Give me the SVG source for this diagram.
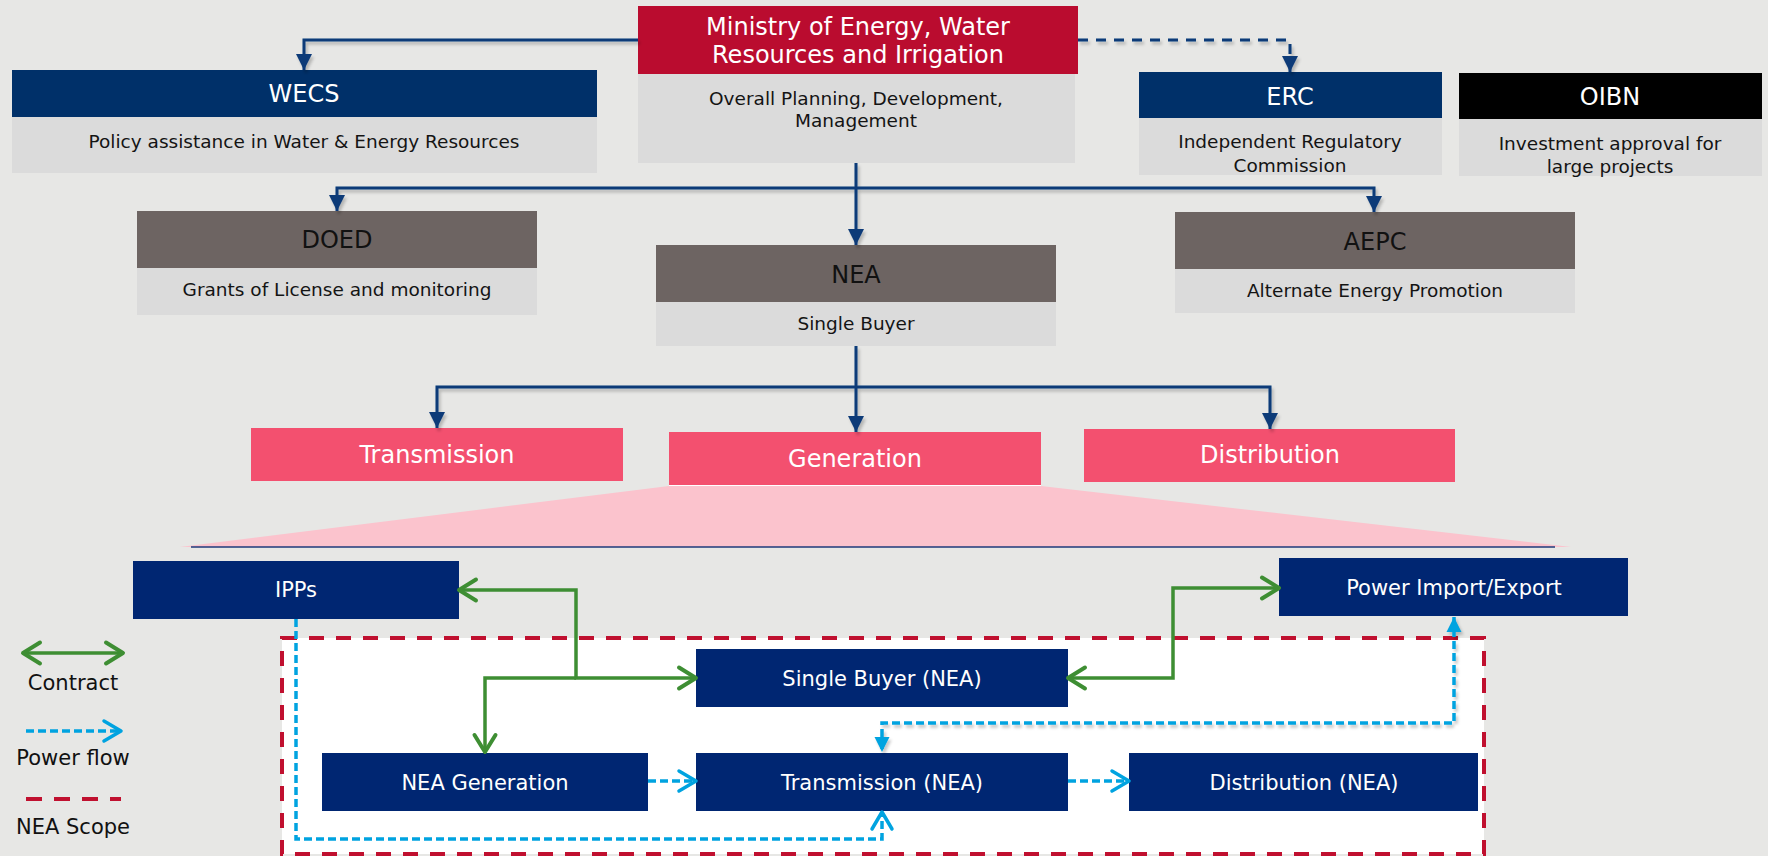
<svg xmlns="http://www.w3.org/2000/svg" width="1768" height="856" viewBox="0 0 1768 856">
<defs>
<style>
text{font-family:"DejaVu Sans",Verdana,sans-serif;text-anchor:middle}
.hd{font-size:24px}
.bd{font-size:18.5px;fill:#141414}
.w{fill:#ffffff}
.k{fill:#111111}
.ib{font-size:21px;fill:#ffffff}
.lg{font-size:21px;fill:#111111}
.navy{fill:#003069}
.nb{fill:#002672}
.gray{fill:#DBDBDB}
.brown{fill:#6D6462}
.pink{fill:#F3506F}
.nv{fill:none;stroke:#0B3A78;stroke-width:3}
.gr{fill:none;stroke:#3E8E33;stroke-width:3.5}
.bl{fill:none;stroke:#00A3E0;stroke-width:3.5;stroke-dasharray:8 4}
</style>
<filter id="sh" filterUnits="userSpaceOnUse" x="0" y="0" width="1768" height="856">
<feDropShadow dx="2" dy="3" stdDeviation="1.5" flood-color="#000" flood-opacity="0.22"/>
</filter>
<marker id="nh" markerUnits="userSpaceOnUse" markerWidth="16" markerHeight="16" viewBox="0 0 16 16" refX="16" refY="8" orient="auto">
<path d="M0,0 L16,8 L0,16 z" fill="#0B3A78"/>
</marker>
<marker id="gc" markerUnits="userSpaceOnUse" markerWidth="26" markerHeight="28" viewBox="0 0 26 28" refX="21" refY="14" orient="auto-start-reverse">
<path d="M4,3.5 L21,14 L4,24.5" fill="none" stroke="#3E8E33" stroke-width="4" stroke-linecap="round" stroke-linejoin="round"/>
</marker>
<marker id="bc" markerUnits="userSpaceOnUse" markerWidth="26" markerHeight="28" viewBox="0 0 26 28" refX="21" refY="14" orient="auto-start-reverse">
<path d="M4,4 L21,14 L4,24" fill="none" stroke="#00A3E0" stroke-width="3.5" stroke-linecap="round" stroke-linejoin="round"/>
</marker>
<marker id="bh" markerUnits="userSpaceOnUse" markerWidth="16" markerHeight="16" viewBox="0 0 16 16" refX="15" refY="8" orient="auto-start-reverse">
<path d="M0,0.5 L15,8 L0,15.5 z" fill="#00A3E0"/>
</marker>
</defs>

<rect x="0" y="0" width="1768" height="856" fill="#E7E7E5"/>

<!-- zoom trapezoid -->
<polygon points="669,486 1041,486 1571,547 180,547" fill="#FBC3CD"/>
<line x1="191" y1="547" x2="1555" y2="547" stroke="#1F3A7A" stroke-width="1.5"/>

<!-- NEA scope box -->
<rect id="nea-scope" x="282" y="638" width="1202" height="216" fill="#FFFFFF" stroke="#C0102F" stroke-width="4" stroke-dasharray="15 12"/>

<g id="ministry">
<rect x="638" y="74" width="437" height="89" class="gray"/>
<rect x="638" y="6" width="440" height="68" fill="#BA0C2F"/>
<text class="hd w" x="858" y="35">Ministry of Energy, Water</text>
<text class="hd w" x="858" y="63">Resources and Irrigation</text>
<text class="bd" x="856" y="105">Overall Planning, Development,</text>
<text class="bd" x="856" y="127">Management</text>
</g>

<g id="wecs">
<rect x="12" y="117" width="585" height="56" class="gray"/>
<rect x="12" y="70" width="585" height="47" class="navy"/>
<text class="hd w" x="304" y="102">WECS</text>
<text class="bd" x="304" y="148">Policy assistance in Water &amp; Energy Resources</text>
</g>

<g id="erc">
<rect x="1139" y="118" width="303" height="57" class="gray"/>
<rect x="1139" y="72" width="303" height="46" class="navy"/>
<text class="hd w" x="1290" y="105">ERC</text>
<text class="bd" x="1290" y="148">Independent Regulatory</text>
<text class="bd" x="1290" y="172">Commission</text>
</g>

<g id="oibn">
<rect x="1459" y="119" width="303" height="57" class="gray"/>
<rect x="1459" y="73" width="303" height="46" fill="#000000"/>
<text class="hd w" x="1610" y="105">OIBN</text>
<text class="bd" x="1610" y="150">Investment approval for</text>
<text class="bd" x="1610" y="173">large projects</text>
</g>

<g id="doed">
<rect x="137" y="268" width="400" height="47" class="gray"/>
<rect x="137" y="211" width="400" height="57" class="brown"/>
<text class="hd k" x="337" y="248">DOED</text>
<text class="bd" x="337" y="296">Grants of License and monitoring</text>
</g>

<g id="nea">
<rect x="656" y="302" width="400" height="44" class="gray"/>
<rect x="656" y="245" width="400" height="57" class="brown"/>
<text class="hd k" x="856" y="283">NEA</text>
<text class="bd" x="856" y="330">Single Buyer</text>
</g>

<g id="aepc">
<rect x="1175" y="269" width="400" height="44" class="gray"/>
<rect x="1175" y="212" width="400" height="57" class="brown"/>
<text class="hd k" x="1375" y="250">AEPC</text>
<text class="bd" x="1375" y="297">Alternate Energy Promotion</text>
</g>

<g id="transmission">
<rect x="251" y="428" width="372" height="53" class="pink"/>
<text class="hd w" x="437" y="463">Transmission</text>
</g>

<g id="generation">
<rect x="669" y="432" width="372" height="53" class="pink"/>
<line x1="669" y1="485.5" x2="1041" y2="485.5" stroke="#FFFFFF" stroke-width="1"/>
<text class="hd w" x="855" y="467">Generation</text>
</g>

<g id="distribution">
<rect x="1084" y="429" width="371" height="53" class="pink"/>
<text class="hd w" x="1270" y="463">Distribution</text>
</g>

<g id="ipps">
<rect x="133" y="561" width="326" height="58" class="nb"/>
<text class="ib" x="296" y="597">IPPs</text>
</g>

<g id="power-import-export">
<rect x="1279" y="558" width="349" height="58" class="nb"/>
<text class="ib" x="1454" y="595">Power Import/Export</text>
</g>

<g id="single-buyer">
<rect x="696" y="649" width="372" height="58" class="nb"/>
<text class="ib" x="882" y="686">Single Buyer (NEA)</text>
</g>

<g id="nea-generation">
<rect x="322" y="753" width="326" height="58" class="nb"/>
<text class="ib" x="485" y="790">NEA Generation</text>
</g>

<g id="transmission-nea">
<rect x="696" y="753" width="372" height="58" class="nb"/>
<text class="ib" x="882" y="790">Transmission (NEA)</text>
</g>

<g id="distribution-nea">
<rect x="1129" y="753" width="349" height="58" class="nb"/>
<text class="ib" x="1304" y="790">Distribution (NEA)</text>
</g>

<g id="connectors">
<g filter="url(#sh)">
<path class="nv" d="M638,40 H304 V70" marker-end="url(#nh)"/>
<path class="nv" d="M1078,40 H1290 V72" stroke-dasharray="10 8" marker-end="url(#nh)"/>
<path class="nv" d="M856,163 V245" marker-end="url(#nh)"/>
<path class="nv" d="M856,188 H337 V211" marker-end="url(#nh)"/>
<path class="nv" d="M856,188 H1374 V212" marker-end="url(#nh)"/>
<path class="nv" d="M856,346 V432" marker-end="url(#nh)"/>
<path class="nv" d="M856,387 H437 V428" marker-end="url(#nh)"/>
<path class="nv" d="M856,387 H1270 V429" marker-end="url(#nh)"/>
<path class="bl" d="M1454,617 V723 H882 V752" marker-start="url(#bh)" marker-end="url(#bh)"/>
</g>
<path class="gr" d="M459,590 H576 V678 H696" marker-start="url(#gc)" marker-end="url(#gc)"/>
<path class="gr" d="M576,678 H485 V752" marker-end="url(#gc)"/>
<path class="gr" d="M1068,678 H1173 V588 H1279" marker-start="url(#gc)" marker-end="url(#gc)"/>
<path class="bl" d="M296,619 V839 H882 V812" marker-end="url(#bc)"/>
<path class="bl" d="M648,781 H696" marker-end="url(#bc)"/>
<path class="bl" d="M1068,781 H1129" marker-end="url(#bc)"/>
</g>

<g id="legend">
<path class="gr" d="M23,653 H123" marker-start="url(#gc)" marker-end="url(#gc)"/>
<text class="lg" x="73" y="690">Contract</text>
<path class="bl" d="M26,731 H121" marker-end="url(#bc)"/>
<text class="lg" x="73" y="765">Power flow</text>
<path d="M26,799 H121" fill="none" stroke="#C0102F" stroke-width="4" stroke-dasharray="16 12"/>
<text class="lg" x="73" y="834">NEA Scope</text>
</g>
</svg>
